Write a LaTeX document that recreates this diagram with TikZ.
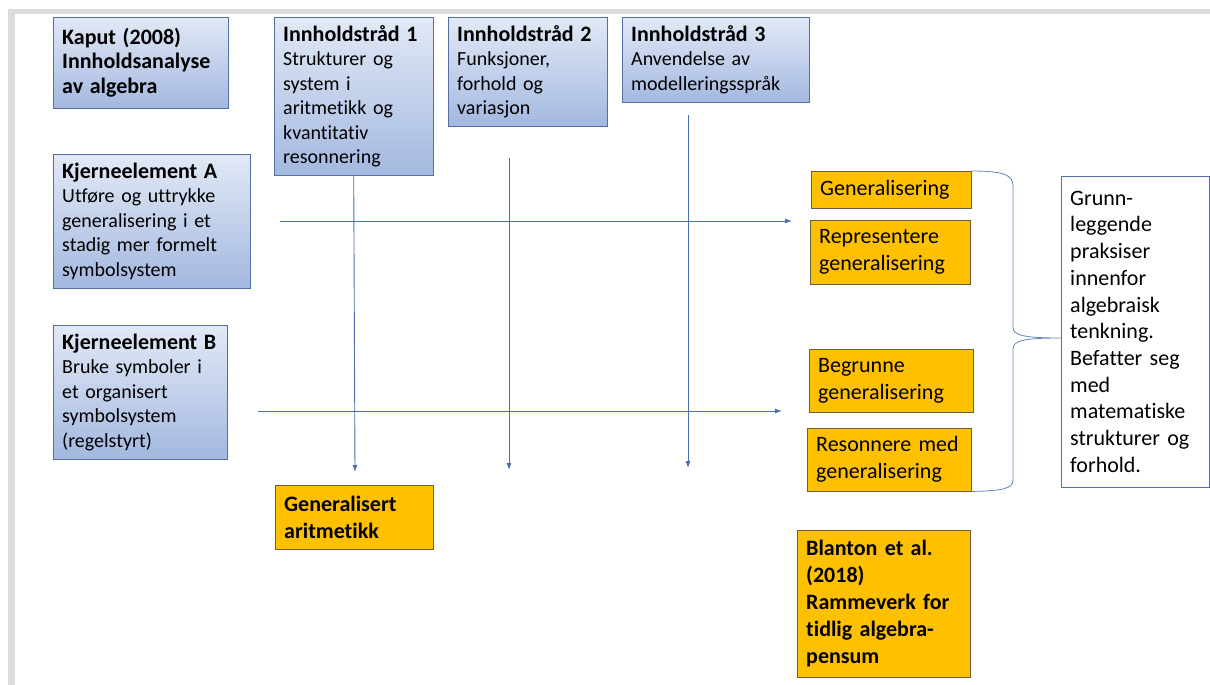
\documentclass[tikz,border=0pt]{standalone}
\usepackage{fontspec}
\setmainfont{Carlito}[Ligatures={NoCommon}]
\usetikzlibrary{arrows.meta}

\definecolor{boxtop}{RGB}{226,233,246}
\definecolor{boxbottom}{RGB}{163,184,224}
\definecolor{boxline}{RGB}{84,112,160}
\definecolor{gold}{RGB}{255,192,0}
\definecolor{goldline}{RGB}{110,95,60}
\definecolor{linkblue}{RGB}{74,110,176}
\definecolor{framegray}{RGB}{220,220,220}

\newcommand{\boxhead}[1]{{\fontsize{22}{24.5}\selectfont\bfseries #1}}

\begin{document}
\begin{tikzpicture}[
    x=1pt, y=-1pt,
    every node/.style={anchor=north west, align=left, inner xsep=9pt, inner ysep=3pt},
    bluebox/.style={draw=boxline, top color=boxtop, bottom color=boxbottom,
                    font=\fontsize{20}{24.5}\selectfont},
    goldbox/.style={draw=goldline, fill=gold, font=\fontsize{22}{27}\selectfont},
    notebox/.style={draw=boxline, fill=white, font=\fontsize{22}{26.7}\selectfont},
    link/.style={draw=linkblue, line width=0.9pt, -{Latex[length=7pt,width=5pt]}}
]
\useasboundingbox (0,0) rectangle (1210,685);
\fill[framegray] (8,9) rectangle (1210,14);
\fill[framegray] (8,9) rectangle (15,685);

% top row
\node[bluebox, text width=157pt, minimum height=91pt] (kaput) at (53,17)
    {\boxhead{Kaput (2008)}\\ \boxhead{Innholdsanalyse}\\ \boxhead{av algebra}};
\node[bluebox, text width=141pt, minimum height=158pt] (str1) at (274,17)
    {\boxhead{Innholdstråd 1}\\ Strukturer og\\ system i\\ aritmetikk og\\ kvantitativ\\ resonnering};
\node[bluebox, text width=141pt, minimum height=109pt] (str2) at (448,17)
    {\boxhead{Innholdstråd 2}\\ Funksjoner,\\ forhold og\\ variasjon};
\node[bluebox, text width=169pt, minimum height=85pt] (str3) at (622,17)
    {\boxhead{Innholdstråd 3}\\ Anvendelse av\\ modelleringsspråk};

% left column
\node[bluebox, text width=179pt, minimum height=134pt] (kjA) at (53,154)
    {\boxhead{Kjerneelement A}\\ Utføre og uttrykke\\ generalisering i et\\ stadig mer formelt\\ symbolsystem};
\node[bluebox, text width=156pt, minimum height=134pt] (kjB) at (53,325)
    {\boxhead{Kjerneelement B}\\ Bruke symboler i\\ et organisert\\ symbolsystem\\ (regelstyrt)};

\node[goldbox, text width=140pt, minimum height=64pt] (genar) at (275,485)
    {\textbf{Generalisert}\\ \textbf{aritmetikk}};

% practices
\node[goldbox, text width=142pt, minimum height=37pt] (gen) at (811,171) {Generalisering};
\node[goldbox, text width=142pt, minimum height=64pt] (rep) at (810,220)
    {Representere\\ generalisering};
\node[goldbox, text width=146pt, minimum height=63pt] (beg) at (809,349)
    {Begrunne\\ generalisering};
\node[goldbox, text width=146pt, minimum height=63pt] (res) at (807,428)
    {Resonnere med\\ generalisering};

\node[notebox, text width=130pt, minimum height=311pt] (grunn) at (1061,176)
    {Grunn-\\ leggende\\ praksiser\\ innenfor\\ algebraisk\\ tenkning.\\ Befatter seg\\ med\\ matematiske\\ strukturer og\\ forhold.};

\node[goldbox, text width=155pt, minimum height=147pt] (blanton) at (797,530)
    {\textbf{Blanton et al.}\\ \textbf{(2018)}\\ \textbf{Rammeverk for}\\ \textbf{tidlig algebra-}\\ \textbf{pensum}};

% connectors
\coordinate (v1end) at (355,472);
\coordinate (v2beg) at (509,158);
\coordinate (v2end) at (509,470);
\coordinate (v3beg) at (688,115);
\coordinate (v3end) at (688,468);
\coordinate (hAbeg) at (280,221);
\coordinate (hAend) at (792,221);
\coordinate (hBbeg) at (258,411);
\coordinate (hBend) at (782,411);

\draw[link] (str1.south) -- (v1end);
\draw[link] (v2beg) -- (v2end);
\draw[link] (v3beg) -- (v3end);
\draw[link] (hAbeg) -- (hAend);
\draw[link] (hBbeg) -- (hBend);

% brace
\draw[linkblue!85, line width=0.8pt] (gen.north east)
    .. controls (1004,171) and (1013,175) .. (1013,186) -- (1013,327)
    .. controls (1013,335) and (1022,338) .. (grunn.west |- 0,338)
    .. controls (1022,338) and (1013,341) .. (1013,349) -- (1013,480)
    .. controls (1013,488) and (1004,491) .. (res.south east);
\end{tikzpicture}
\end{document}
